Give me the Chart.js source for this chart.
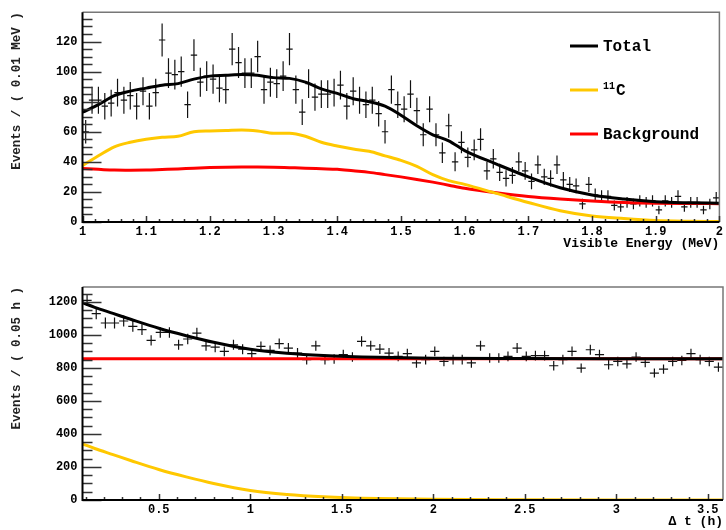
<!DOCTYPE html>
<html>
<head>
<meta charset="utf-8">
<script src="https://cdn.jsdelivr.net/npm/chart.js@4.4.1/dist/chart.umd.min.js"></script>
<style>
html, body { margin: 0; padding: 0; background: #fff; }
#wrap { position: relative; width: 726px; height: 530px; }
.panel { position: absolute; left: 0; width: 726px; height: 265px; }
#top { top: 0; }
#bot { top: 265px; }
</style>
</head>
<body>
<div id="wrap">
  <div class="panel" id="top"><canvas id="energyChart"></canvas></div>
  <div class="panel" id="bot"><canvas id="timeChart"></canvas></div>
</div>
<script>
// ---- energy spectrum (0.01 MeV bins, 1 -> 2 MeV)
const energyCounts = [
  60, 81, 81, 77, 79, 86, 81, 84, 77, 87,
  77, 86, 121, 99, 98, 100, 78, 111, 93, 97,
  95, 89, 88, 115, 106, 99, 99, 110, 88, 93,
  92, 97, 115, 88, 73, 92, 83, 85, 85, 86,
  91, 77, 87, 81, 78, 81, 72, 60, 88, 78,
  75, 85, 74, 58, 75, 58, 46, 64, 40, 53,
  43, 48, 55, 34, 42, 33, 29, 31, 40, 34,
  27, 38, 30, 29, 38, 28, 25, 24, 12, 25,
  18, 17, 17, 11, 10, 13, 12, 14, 13, 14,
  8, 14, 13, 17, 10, 13, 13, 8, 12, 16
];
const energyCurveX = [1.00, 1.025, 1.05, 1.075, 1.10, 1.125, 1.15, 1.175, 1.20, 1.225, 1.25, 1.275, 1.30, 1.325, 1.35, 1.375,
  1.40, 1.425, 1.45, 1.475, 1.50, 1.525, 1.55, 1.575, 1.60, 1.65, 1.70, 1.75, 1.80, 1.85, 1.90, 1.95, 2.00];
const energyTotal = [73, 78, 84, 87, 89, 91, 92, 95, 97, 97.5, 98, 97.5, 96, 95.5, 93, 88.5,
  85.5, 82, 80, 77, 71, 64, 58, 54, 47.5, 38.5, 30, 22.8, 18, 15.3, 13.5, 12.8, 12.5];
const energyC11 = [37.5, 44, 50, 53, 55, 56.3, 57, 60, 60.5, 60.8, 61.2, 60.5, 59, 59, 57, 53,
  50.5, 48.5, 47, 44, 41, 37, 31.5, 27.5, 25, 19, 13, 7.5, 4, 2.3, 1, 0.5, 0.3];
const energyBkg = [35.5, 35, 34.5, 34.4, 34.5, 34.9, 35.3, 35.8, 36.2, 36.4, 36.5, 36.5, 36.4, 36.1, 35.8, 35.4,
  35, 34, 33, 31.5, 30, 28.3, 26.5, 24.5, 22.5, 19.5, 17, 15.3, 14, 13, 12.5, 12.3, 12.2];
const energyXTicks = [1, 1.1, 1.2, 1.3, 1.4, 1.5, 1.6, 1.7, 1.8, 1.9, 2];
const energyYTicks = [0, 20, 40, 60, 80, 100, 120];

// ---- time distribution (0.05 h bins)
const timeCounts = [
  1209, 1129, 1072, 1072, 1084, 1052, 1032, 967, 1015, 1015,
  940, 975, 1011, 934, 926, 900, 940, 913, 886, 930,
  906, 947, 920, 890, 850, 934, 850, 854, 880, 866,
  961, 934, 914, 890, 870, 886, 830, 850, 900, 839,
  850, 850, 830, 934, 860, 860, 870, 920, 870, 874,
  874, 813, 850, 900, 799, 910, 880, 819, 839, 825,
  866, 833, 769, 793, 839, 845, 886, 850, 839, 805
];
const timeCurveX = [0.0833, 0.15, 0.25, 0.35, 0.5, 0.65, 0.8, 1.0, 1.2, 1.4, 1.7, 2.0, 2.5, 3.0, 3.5833];
const timeTotal = [1195, 1167, 1130, 1093, 1040, 995, 955, 913, 889, 875, 864, 859, 856.5, 855.5, 855];
const timeC11 = [340, 312, 275, 238, 185, 140, 100, 58, 34, 20, 9, 4, 1.5, 0.5, 0.2];
const timeBkgX = [0.0833, 3.5833];
const timeBkg = [855, 855];
const timeXTicks = [0.5, 1, 1.5, 2, 2.5, 3, 3.5];
const timeYTicks = [0, 200, 400, 600, 800, 1000, 1200];

const C_TOTAL = '#000000';
const C_11C = '#ffc800';
const C_BKG = '#ff0000';
const FONT = "'Liberation Mono', 'DejaVu Sans Mono', monospace";

// data points with poisson error bars, drawn under the fit curves
const errorBars = {
  id: 'errorBars',
  beforeDatasetsDraw(chart) {
    const { ctx, chartArea: a, scales: { x, y } } = chart;
    ctx.save();
    ctx.beginPath();
    ctx.rect(a.left, a.top, a.right - a.left, a.bottom - a.top);
    ctx.clip();
    ctx.strokeStyle = '#111';
    ctx.lineWidth = 1.2;
    chart.data.datasets.forEach(ds => {
      if (!ds.binWidth) return;
      ctx.beginPath();
      ds.data.forEach(p => {
        const px = x.getPixelForValue(p.x);
        const py = y.getPixelForValue(p.y);
        const err = Math.sqrt(p.y);
        ctx.moveTo(px, y.getPixelForValue(p.y - err));
        ctx.lineTo(px, y.getPixelForValue(p.y + err));
        ctx.moveTo(x.getPixelForValue(p.x - ds.binWidth / 2), py);
        ctx.lineTo(x.getPixelForValue(p.x + ds.binWidth / 2), py);
      });
      ctx.stroke();
    });
    ctx.restore();
  }
};

// ROOT style frame: ticks pointing inside
const rootFrame = {
  id: 'rootFrame',
  afterDraw(chart, args, o) {
    const { ctx, chartArea: a, scales: { x, y } } = chart;
    ctx.save();
    ctx.strokeStyle = '#777';
    ctx.lineWidth = 1.5;
    ctx.beginPath();
    ctx.moveTo(a.left, a.top);
    ctx.lineTo(a.right, a.top);
    ctx.lineTo(a.right, a.bottom);
    ctx.stroke();

    ctx.strokeStyle = '#333';
    ctx.lineWidth = 1.5;
    ctx.beginPath();
    for (let v = Math.ceil(x.min / o.xMinor - 1e-6) * o.xMinor; v <= x.max + 1e-9; v += o.xMinor) {
      const isMajor = Math.abs(v / o.xMajor - Math.round(v / o.xMajor)) < 1e-6;
      const px = Math.round(x.getPixelForValue(v)) + 0.5;
      ctx.moveTo(px, a.bottom);
      ctx.lineTo(px, a.bottom - (isMajor ? 6 : 3));
    }
    for (let v = Math.ceil(y.min / o.yMinor - 1e-6) * o.yMinor; v <= y.max + 1e-9; v += o.yMinor) {
      const isMajor = Math.abs(v / o.yMajor - Math.round(v / o.yMajor)) < 1e-6;
      const py = Math.round(y.getPixelForValue(v)) + 0.5;
      ctx.moveTo(a.left, py);
      ctx.lineTo(a.left + (isMajor ? 19 : 10), py);
    }
    ctx.stroke();

    ctx.strokeStyle = '#000';
    ctx.lineWidth = 2;
    ctx.beginPath();
    ctx.moveTo(a.left, a.top);
    ctx.lineTo(a.left, a.bottom);
    ctx.lineTo(a.right, a.bottom);
    ctx.stroke();
    ctx.restore();
  }
};

const fitLegend = {
  id: 'fitLegend',
  afterDraw(chart, args, o) {
    if (!o.show) return;
    const { ctx } = chart;
    ctx.save();
    ctx.textBaseline = 'middle';
    ctx.fillStyle = '#000';
    chart.data.datasets.filter(d => !d.binWidth).forEach((ds, i) => {
      const ly = o.rows[i];
      ctx.strokeStyle = ds.borderColor;
      ctx.lineWidth = 3;
      ctx.beginPath();
      ctx.moveTo(o.x, ly);
      ctx.lineTo(o.x + 28, ly);
      ctx.stroke();
      let tx = o.x + 33;
      if (ds.sup) {
        // isotope mass number as a small raised prefix
        ctx.font = 'bold 10px ' + FONT;
        ctx.fillText(ds.sup, tx, ly - 4);
        tx += ctx.measureText(ds.sup).width + 1;
      }
      ctx.font = 'bold 16px ' + FONT;
      ctx.fillText(ds.sup ? ds.label.slice(ds.sup.length) : ds.label, tx, ly + 1);
    });
    ctx.restore();
  }
};

function curve(label, xs, ys, color, sup) {
  return {
    label,
    sup,
    data: xs.map((v, i) => ({ x: v, y: ys[i] })),
    borderColor: color,
    borderWidth: 3,
    pointRadius: 0,
    fill: false,
    cubicInterpolationMode: 'monotone'
  };
}

function makeChart(id, cfg) {
  const tickFont = { family: FONT, size: 12, weight: 'bold' };
  const fmt = v => String(Math.round(v * 100) / 100);
  return new Chart(document.getElementById(id), {
    type: 'line',
    data: { datasets: cfg.datasets },
    options: {
      responsive: true,
      maintainAspectRatio: false,
      animation: false,
      devicePixelRatio: 1,
      layout: { padding: { top: cfg.padTop, right: 3, left: 0, bottom: 0 } },
      plugins: {
        legend: { display: false },
        tooltip: { enabled: false },
        rootFrame: cfg.frame,
        fitLegend: cfg.legend
      },
      scales: {
        x: {
          type: 'linear',
          min: cfg.xMin,
          max: cfg.xMax,
          grid: { display: false, drawTicks: false },
          border: { display: false },
          afterBuildTicks: s => { s.ticks = cfg.xTicks.map(v => ({ value: v })); },
          afterFit: s => { s.height = cfg.xHeight; },
          ticks: { font: tickFont, color: '#000', padding: 3, maxRotation: 0, autoSkip: false, callback: fmt },
          title: {
            display: true, text: cfg.xTitle, align: 'end', color: '#000',
            font: { family: FONT, size: 13, weight: 'bold' },
            padding: { top: 0, bottom: cfg.xTitlePad }
          }
        },
        y: {
          min: 0,
          max: cfg.yMax,
          grid: { display: false, drawTicks: false },
          border: { display: false },
          afterBuildTicks: s => { s.ticks = cfg.yTicks.map(v => ({ value: v })); },
          afterFit: s => { s.width = 82.5; },
          ticks: { font: tickFont, color: '#000', padding: 5, callback: fmt },
          title: {
            display: true, text: cfg.yTitle, align: 'end', color: '#222',
            font: { family: FONT, size: 12.5, weight: 'bold' },
            padding: { top: 9, bottom: 0 }
          }
        }
      }
    },
    plugins: [errorBars, rootFrame, fitLegend]
  });
}

makeChart('energyChart', {
  datasets: [
    curve('Total', energyCurveX, energyTotal, C_TOTAL),
    curve('11C', energyCurveX, energyC11, C_11C, '11'),
    curve('Background', energyCurveX, energyBkg, C_BKG),
    {
      label: 'Data',
      data: energyCounts.map((n, i) => ({ x: 1 + (i + 0.5) * 0.01, y: n })),
      binWidth: 0.01,
      showLine: false,
      pointRadius: 0
    }
  ],
  padTop: 10, xMin: 1, xMax: 2, yMax: 139.5, xHeight: 43, xTitlePad: 13,
  xTicks: energyXTicks, yTicks: energyYTicks,
  xTitle: 'Visible Energy (MeV)', yTitle: 'Events / ( 0.01 MeV )',
  frame: { xMajor: 0.1, xMinor: 0.02, yMajor: 20, yMinor: 5 },
  legend: { show: true, x: 570, rows: [46, 90, 134] }
});

makeChart('timeChart', {
  datasets: [
    curve('Total', timeCurveX, timeTotal, C_TOTAL),
    curve('11C', timeCurveX, timeC11, C_11C, '11'),
    curve('Background', timeBkgX, timeBkg, C_BKG),
    {
      label: 'Data',
      data: timeCounts.map((n, i) => ({ x: 0.0833 + (i + 0.5) * 0.05, y: n })),
      binWidth: 0.05,
      showLine: false,
      pointRadius: 0
    }
  ],
  padTop: 22, xMin: 0.0833, xMax: 3.5833, yMax: 1290, xHeight: 30, xTitlePad: 0,
  xTicks: timeXTicks, yTicks: timeYTicks,
  xTitle: '\u0394 t (h)', yTitle: 'Events / ( 0.05 h )',
  frame: { xMajor: 0.5, xMinor: 0.1, yMajor: 200, yMinor: 50 },
  legend: { show: false }
});
</script>
</body>
</html>
